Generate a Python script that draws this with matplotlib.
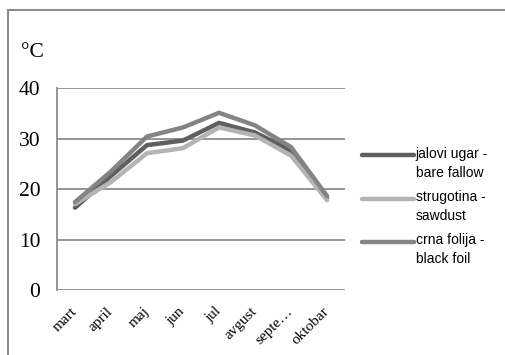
import matplotlib.pyplot as plt
from matplotlib.lines import Line2D
from matplotlib.legend_handler import HandlerLine2D

# monthly soil temperature, degrees C
months = ['mart', 'april', 'maj', 'jun', 'jul', 'avgust', 'septe…', 'oktobar']
bare_fallow = [16.3, 22.6, 28.7, 29.6, 33.1, 31.2, 27.6, 18.2]
sawdust = [17.0, 21.4, 27.1, 28.1, 32.2, 30.6, 26.6, 17.8]
black_foil = [17.4, 23.5, 30.4, 32.2, 35.1, 32.6, 28.3, 18.6]

series = [
    ('jalovi ugar -\nbare fallow', bare_fallow, '#5f5f5f'),
    ('strugotina -\nsawdust', sawdust, '#b4b4b4'),
    ('crna folija -\nblack foil', black_foil, '#848484'),
]


class FirstLineHandler(HandlerLine2D):
    # put the legend line next to the first text line, like Excel does
    def create_artists(self, legend, orig_handle, xdescent, ydescent,
                       width, height, fontsize, trans):
        arts = super().create_artists(legend, orig_handle, xdescent, ydescent,
                                      width, height, fontsize, trans)
        for a in arts:
            a.set_ydata([y + 0.62 * fontsize for y in a.get_ydata()])
        return arts


fig = plt.figure(figsize=(5.06, 3.55), dpi=100)
ax = fig.add_axes([0.1126, 0.183, 0.5694, 0.569])

x = range(len(months))
for label, vals, color in series:
    ax.plot(x, vals, color=color, lw=3.2, solid_capstyle='round',
            solid_joinstyle='round', label=label)

ax.set_xlim(-0.5, len(months) - 0.5)
ax.set_ylim(0, 40)
ax.set_yticks([0, 10, 20, 30, 40])
ax.yaxis.grid(True, color='#8c8c8c', lw=1.3)
ax.set_axisbelow(True)
for s in ['top', 'right', 'bottom']:
    ax.spines[s].set_visible(False)
ax.spines['left'].set_color('#8c8c8c')
ax.spines['left'].set_linewidth(1.3)

ax.set_xticks(list(x))
ax.set_xticklabels(months, rotation=45, ha='right', va='center',
                   rotation_mode='anchor', family='Liberation Serif', fontsize=11)
ax.tick_params(axis='x', length=0, pad=14)
ax.tick_params(axis='y', length=0, pad=12, labelsize=15.5)
for t in ax.get_yticklabels():
    t.set_family('Liberation Serif')

fig.text(0.041, 0.853, '°C', family='Liberation Serif', fontsize=15.5,
         va='center', ha='left')

leg = ax.legend(loc='upper left', bbox_to_anchor=(0.69, 0.622),
                bbox_transform=fig.transFigure, frameon=False,
                prop={'family': 'Liberation Sans', 'size': 10},
                handlelength=3.8, handletextpad=0.1, labelspacing=0.75,
                handler_map={Line2D: FirstLineHandler()})
for t in leg.get_texts():
    t.set_linespacing(1.45)

# outer chart frame (only top and left edges visible)
fig.add_artist(Line2D([0.0158, 0.0158], [0, 0.972], color='#8c8c8c', lw=1.5,
                      transform=fig.transFigure))
fig.add_artist(Line2D([0.0158, 1.01], [0.972, 0.972], color='#8c8c8c', lw=1.5,
                      transform=fig.transFigure))

fig.savefig('out.png', dpi=100)
